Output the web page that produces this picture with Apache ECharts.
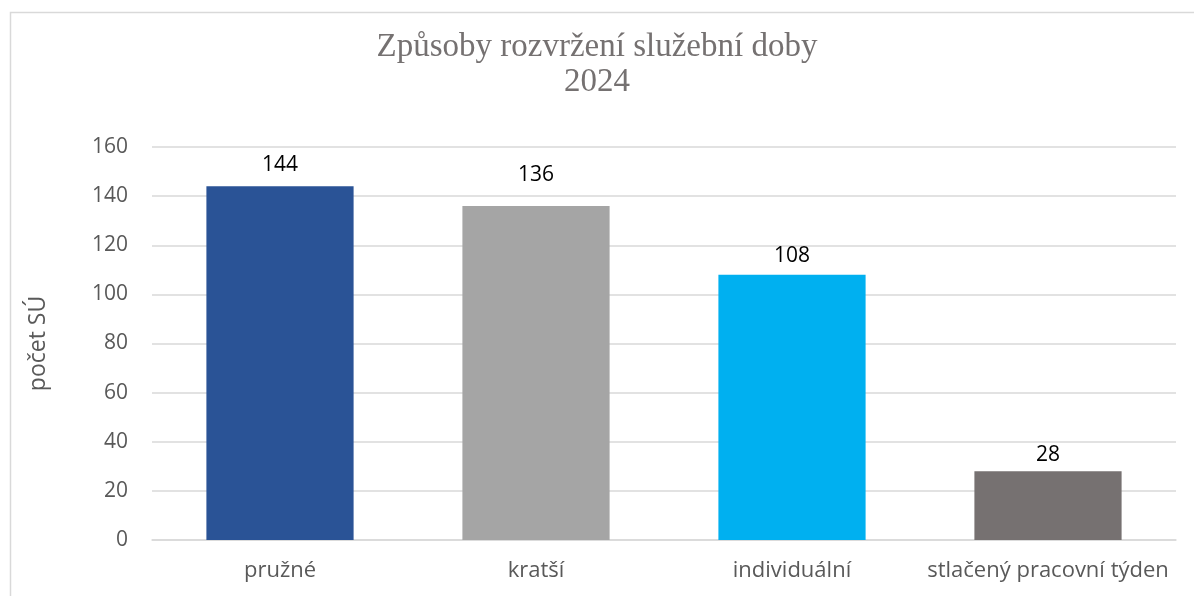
<!DOCTYPE html>
<html><head><meta charset="utf-8">
<script src="https://cdn.jsdelivr.net/npm/echarts@6/dist/echarts.min.js"></script>
<style>html,body{margin:0;padding:0;background:#fff;overflow:hidden}#c{width:1194px;height:596px}</style>
</head><body><div id="c"></div>
<script>
var categories = ['pružné', 'kratší', 'individuální', 'stlačený pracovní týden'];
var values = [144, 136, 108, 28];
var barColors = ['#2A5396', '#A5A5A5', '#00B0F0', '#767171'];
var yTicks = [0, 20, 40, 60, 80, 100, 120, 140, 160];

var chart = echarts.init(document.getElementById('c'), null, {renderer: 'canvas'});
var labelGaps = [11, 20, 8, 6];
chart.setOption({
  animation: false,
  graphic: [{type: 'rect', shape: {x: 10.5, y: 12.5, width: 1300, height: 700}, style: {fill: 'none', stroke: '#D9D9D9', lineWidth: 1.5}, silent: true}],
  title: {
    text: 'Způsoby rozvržení služební doby\n2024',
    left: 'center', top: 25,
    textStyle: {fontFamily: 'Liberation Serif', fontSize: 33, fontWeight: 'normal', color: '#757171', lineHeight: 35}
  },
  grid: {left: 152, right: 18, top: 147, bottom: 56, containLabel: false},
  xAxis: {
    type: 'category', data: categories,
    axisLine: {show: true, lineStyle: {color: '#D9D9D9', width: 1.5}},
    axisTick: {show: false},
    axisLabel: {interval: 0, fontFamily: 'Open Sans', fontSize: 22, color: '#595959', margin: 20}
  },
  yAxis: {
    type: 'value', min: yTicks[0], max: yTicks[yTicks.length - 1], interval: 20,
    name: 'počet SÚ', nameLocation: 'middle', nameGap: 102, nameRotate: 90,
    nameTextStyle: {fontFamily: 'Open Sans', fontSize: 23, color: '#595959'},
    axisLine: {show: false}, axisTick: {show: false},
    axisLabel: {fontFamily: 'Open Sans', fontSize: 21, color: '#595959', margin: 24},
    splitLine: {lineStyle: {color: '#D9D9D9', width: 1.5}}
  },
  series: [{
    type: 'bar', barWidth: '57.5%',
    data: values.map(function (v, i) { return {value: v, itemStyle: {color: barColors[i]}, label: {distance: labelGaps[i]}}; }),
    label: {show: true, position: 'top', fontFamily: 'Open Sans', fontSize: 21, color: '#000'}
  }]
});
</script></body></html>
